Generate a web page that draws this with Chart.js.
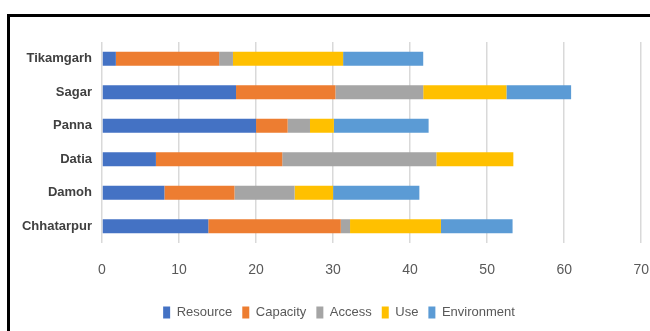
<!DOCTYPE html>
<html>
<head>
<meta charset="utf-8">
<script src="https://cdn.jsdelivr.net/npm/chart.js@4.4.0/dist/chart.umd.min.js"></script>
<style>
  html, body { margin: 0; padding: 0; background: #fff; overflow: hidden; }
  #frame {
    position: absolute; left: 7px; top: 14px;
    width: 700px; height: 400px;
    border: 3px solid #000; background: #fff;
  }
  #wrap { position: absolute; left: 0; top: 0; width: 658px; height: 318px; }
</style>
</head>
<body>
<div id="frame">
  <div id="wrap"><canvas id="chart"></canvas></div>
</div>
<script>
// 지역 (위에서 아래 순서)
const districts = ['Tikamgarh', 'Sagar', 'Panna', 'Datia', 'Damoh', 'Chhatarpur'];

// 항목별 값
const resource    = [1.8, 17.4, 20.0, 7.0, 8.1, 13.8];
const capacity    = [13.4, 12.9, 4.1, 16.4, 9.1, 17.2];
const access      = [1.8, 11.4, 2.9, 20.0, 7.8, 1.2];
const use         = [14.3, 10.8, 3.1, 10.0, 5.0, 11.8];
const environment = [10.4, 8.4, 12.3, 0, 11.2, 9.3];

// x축 범위
const xMin = 0;
const xMax = 70;
const xStep = 10;

const FONT = '"Liberation Sans Narrow", "Arial Narrow", "Liberation Sans", sans-serif';

function makeSet(label, data, color) {
    return {
        label: label,
        data: data,
        backgroundColor: color,
        borderWidth: 0,
        barPercentage: 0.42,
        categoryPercentage: 1
    };
}

const ctx = document.getElementById('chart').getContext('2d');
new Chart(ctx, {
    type: 'bar',
    data: {
        labels: districts,
        datasets: [
            makeSet('Resource', resource, '#4472C4'),
            makeSet('Capacity', capacity, '#ED7D31'),
            makeSet('Access', access, '#A5A5A5'),
            makeSet('Use', use, '#FFC000'),
            makeSet('Environment', environment, '#5B9BD5')
        ]
    },
    options: {
        indexAxis: 'y',
        responsive: true,
        maintainAspectRatio: false,
        animation: false,
        layout: {
            padding: { top: 25, right: 0, bottom: 6, left: 0 }
        },
        plugins: {
            tooltip: { enabled: false },
            legend: {
                position: 'bottom',
                labels: {
                    boxWidth: 7,
                    boxHeight: 12,
                    padding: 10,
                    color: '#595959',
                    font: { family: FONT, size: 13 }
                }
            }
        },
        scales: {
            x: {
                stacked: true,
                min: xMin,
                max: xMax,
                afterFit: function (scale) { scale.height = 53; },
                ticks: {
                    stepSize: xStep,
                    color: '#595959',
                    padding: 19,
                    font: { family: FONT, size: 14 }
                },
                grid: {
                    color: '#D9D9D9',
                    lineWidth: 1.5,
                    drawTicks: false
                },
                border: { display: false }
            },
            y: {
                stacked: true,
                afterFit: function (scale) { scale.width = 92; },
                ticks: {
                    color: '#404040',
                    padding: 10,
                    font: { family: FONT, size: 13, weight: 'bold' }
                },
                grid: { display: false, drawTicks: false },
                border: { display: false }
            }
        }
    }
});
</script>
</body>
</html>
